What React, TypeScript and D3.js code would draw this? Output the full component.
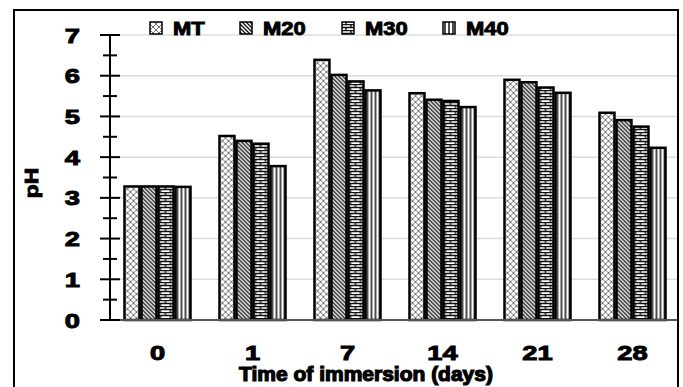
import React from "react";
import * as d3 from "d3";

const categories = ["0", "1", "7", "14", "21", "28"];
const seriesNames = ["MT", "M20", "M30", "M40"];
const MT = [3.28, 4.52, 6.39, 5.57, 5.9, 5.09];
const M20 = [3.28, 4.4, 6.02, 5.41, 5.84, 4.91];
const M30 = [3.28, 4.33, 5.86, 5.38, 5.71, 4.75];
const M40 = [3.27, 3.78, 5.64, 5.23, 5.58, 4.23];
const yTicks = [0, 1, 2, 3, 4, 5, 6, 7];
const seriesValues = [MT, M20, M30, M40];
const patternIds = ["pMT", "pM20", "pM30", "pM40"];

const W = 683;
const H = 387;
const FONT = "'Liberation Sans', Arial, sans-serif";

function Txt(props: {
  x: number;
  y: number;
  size: number;
  sx: number;
  anchor?: string;
  rotate?: number;
  sw?: number;
  dy?: string;
  children: React.ReactNode;
}) {
  const { x, y, size, sx, anchor = "start", rotate = 0, sw = 0.8, dy } = props;
  return (
    <text
      transform={`translate(${x},${y}) rotate(${rotate}) scale(${sx},1)`}
      textAnchor={anchor}
      dy={dy}
      fontFamily={FONT}
      fontWeight="bold"
      fontSize={size}
      fill="#000"
      stroke="#000"
      strokeWidth={sw}
    >
      {props.children}
    </text>
  );
}

export default function App() {
  const x0 = d3
    .scaleBand<string>()
    .domain(categories)
    .range([110, 680])
    .paddingInner(0.305)
    .paddingOuter(0.1525);
  const x1 = d3
    .scaleBand<string>()
    .domain(seriesNames)
    .range([0, x0.bandwidth()])
    .paddingInner(0.12)
    .paddingOuter(0);
  const y = d3.scaleLinear().domain([0, 7]).range([320, 35]);
  const minor = d3.range(0.5, 7, 1);

  const legendX = [150, 240, 342, 443];

  return (
    <svg width={W} height={H} style={{ position: "absolute", left: 0, top: 0 }}>
      <defs>
        <pattern id="pMT" width="6" height="6" patternUnits="userSpaceOnUse">
          <rect width="6" height="6" fill="#fff" />
          <path d="M0,0 L6,6 M6,0 L0,6 M-1,5 L1,7 M5,-1 L7,1 M-1,1 L1,-1 M5,7 L7,5" stroke="#666" strokeWidth="0.9" />
        </pattern>
        <pattern id="pM20" width="4" height="4" patternUnits="userSpaceOnUse">
          <rect width="4" height="4" fill="#fff" />
          <path d="M0,0 L4,4 M-1,3 L1,5 M3,-1 L5,1" stroke="#111" strokeWidth="1.3" />
        </pattern>
        <pattern id="pM30" width="10" height="6" patternUnits="userSpaceOnUse">
          <rect width="10" height="6" fill="#fff" />
          <path d="M0,0.5 H10 M0,3.5 H10 M1,0 V3.5 M6,3.5 V6" stroke="#111" strokeWidth="1.4" />
        </pattern>
        <pattern id="pM40" width="4" height="4" patternUnits="userSpaceOnUse">
          <rect width="4" height="4" fill="#fff" />
          <path d="M1,0 V4" stroke="#111" strokeWidth="1.5" />
        </pattern>
      </defs>
      <rect x={0} y={0} width={W} height={H} fill="#fff" />
      {/* outer frame */}
      <rect x={14} y={10} width={664} height={400} fill="none" stroke="#000" strokeWidth={2} />

      {/* gridlines */}
      {yTicks.slice(1).map((t) => (
        <line key={"g" + t} x1={110} x2={677} y1={y(t)} y2={y(t)} stroke="#dcdcdc" strokeWidth={1.5} />
      ))}

      {/* bars */}
      {categories.map((c, ci) => (
        <g key={c} transform={`translate(${x0(c)},0)`}>
          {seriesNames.map((s, si) => {
            const v = seriesValues[si][ci];
            return (
              <rect
                key={s}
                x={x1(s)}
                y={y(v)}
                width={x1.bandwidth()}
                height={y(0) - y(v)}
                fill={`url(#${patternIds[si]})`}
                stroke="#000"
                strokeWidth={2.5}
              />
            );
          })}
        </g>
      ))}

      {/* x axis baseline */}
      <line x1={110} x2={677} y1={y(0)} y2={y(0)} stroke="#555" strokeWidth={2} />

      {/* y axis */}
      <line x1={110} x2={110} y1={y(7)} y2={y(0)} stroke="#000" strokeWidth={2} />
      {yTicks.map((t) => (
        <g key={"t" + t}>
          <line x1={100} x2={120} y1={y(t)} y2={y(t)} stroke="#000" strokeWidth={2} />
          <Txt x={80} y={y(t)} dy="0.36em" size={21} sx={1.3} anchor="end" sw={1}>
            {t}
          </Txt>
        </g>
      ))}
      {minor.map((t) => (
        <line key={"m" + t} x1={103} x2={117} y1={y(t)} y2={y(t)} stroke="#000" strokeWidth={2} />
      ))}

      {/* x labels */}
      {categories.map((c) => (
        <Txt
          key={"xl" + c}
          x={(x0(c) as number) + x0.bandwidth() / 2}
          y={360}
          size={21}
          sx={1.3}
          anchor="middle"
          sw={1}
        >
          {c}
        </Txt>
      ))}

      {/* axis titles */}
      <Txt x={366} y={381} size={20} sx={1.05} anchor="middle" sw={1.2}>
        Time of immersion (days)
      </Txt>
      <Txt x={38} y={183} size={19} sx={1.2} anchor="middle" rotate={-90} sw={1}>
        pH
      </Txt>

      {/* legend */}
      {seriesNames.map((s, i) => (
        <g key={"lg" + s}>
          <rect
            x={legendX[i]}
            y={22}
            width={12}
            height={12}
            fill={`url(#${patternIds[i]})`}
            stroke="#000"
            strokeWidth={1.5}
          />
          <Txt x={legendX[i] + 23} y={35} size={18} sx={1.22} sw={0.9}>
            {s}
          </Txt>
        </g>
      ))}
    </svg>
  );
}
